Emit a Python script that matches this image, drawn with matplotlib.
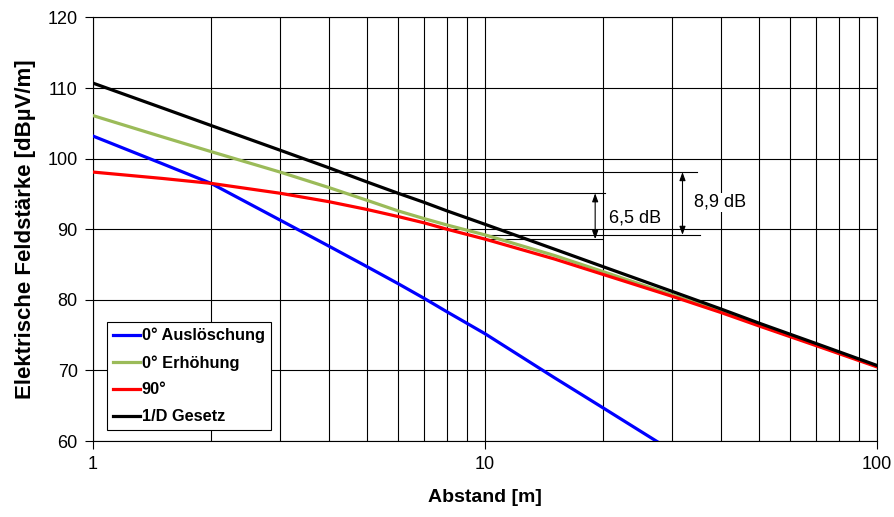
import matplotlib
matplotlib.use("Agg")
import matplotlib.pyplot as plt
import numpy as np

plt.rcParams['font.family'] = ['Liberation Sans', 'DejaVu Sans']

# Abstand [m]
distance = [1, 1.5, 2, 3, 4, 5, 6, 7, 8, 10, 15, 20, 30, 40, 50, 70, 100]
distance_blue = [1, 1.5, 2, 3, 4, 5, 6, 7, 8, 10, 15, 20, 30]

# Elektrische Feldstärke [dBµV/m]
e_ausloeschung = [103.2, 99.3, 96.5, 91.3, 87.6, 84.7, 82.3, 80.2, 78.3, 75.2, 69.0, 64.7, 58.6]
e_erhoehung = [106.1, 103.1, 101.0, 98.1, 95.9, 94.1, 92.6, 91.5, 90.6, 89.2, 86.3, 84.0, 80.7, 78.4, 76.5, 73.6, 70.6]
e_90grad = [98.1, 97.2, 96.5, 95.1, 93.9, 92.8, 91.8, 90.9, 90.0, 88.6, 85.8, 83.6, 80.5, 78.2, 76.3, 73.5, 70.5]
e_1d = [110.7, 107.2, 104.7, 101.2, 98.7, 96.7, 95.1, 93.8, 92.6, 90.7, 87.2, 84.7, 81.2, 78.7, 76.7, 73.8, 70.7]

labels = ['0° Auslöschung', '0° Erhöhung', '90°', '1/D Gesetz']
colors = ['#0000FF', '#9BBB59', '#FF0000', '#000000']

fig = plt.figure(figsize=(8.95, 5.17), dpi=100)
ax = fig.add_axes([0.1039, 0.147, 0.876, 0.8192])

ax.plot(distance_blue, e_ausloeschung, color=colors[0], lw=2.3, label=labels[0], zorder=3)
ax.plot(distance, e_erhoehung, color=colors[1], lw=2.3, label=labels[1], zorder=3)
ax.plot(distance, e_90grad, color=colors[2], lw=2.3, label=labels[2], zorder=3)
ax.plot(distance, e_1d, color=colors[3], lw=2.3, label=labels[3], zorder=3)

ax.set_xscale('log')
ax.set_xlim(1, 100)
ax.set_ylim(60, 120)
ax.set_yticks(np.arange(60, 121, 10))
ax.set_xticks([1, 10, 100])
ax.set_xticklabels(['1', '10', '100'])

ax.grid(True, which='major', color='black', lw=0.8, zorder=1)
ax.grid(True, which='minor', axis='x', color='black', lw=0.8, zorder=1)
ax.tick_params(axis='both', which='major', direction='out', length=6, width=0.8,
               labelsize=13, pad=5, color='black')
ax.tick_params(axis='x', which='minor', length=0, labelbottom=False)
for s in ax.spines.values():
    s.set_color('black')
    s.set_linewidth(0.8)

ax.set_xlabel('Abstand [m]', fontsize=14, fontweight='bold', labelpad=11)
ax.set_ylabel('Elektrische Feldstärke [dBµV/m]', fontsize=16, fontweight='bold', labelpad=8)

# Pegelabfall zwischen 3 m und 10 m
i3 = distance.index(3)
i10 = distance.index(10)

def level_marker(y_top, y_bot, x_top_end, x_bot_end, x_arrow, x_text, y_text, text):
    ax.plot([3, x_top_end], [y_top, y_top], color='black', lw=0.8, zorder=2)
    ax.plot([10, x_bot_end], [y_bot, y_bot], color='black', lw=0.8, zorder=2)
    ax.annotate('', xy=(x_arrow, y_bot), xytext=(x_arrow, y_top),
                arrowprops=dict(arrowstyle='<|-|>,head_length=0.5,head_width=0.18',
                                color='black', lw=0.8, shrinkA=0, shrinkB=0),
                zorder=4)
    ax.text(x_text, y_text, text, fontsize=13, ha='left', va='center', zorder=4,
            bbox=dict(facecolor='white', edgecolor='none', pad=0.5))

d_red = e_90grad[i3] - e_90grad[i10]
d_green = e_erhoehung[i3] - e_erhoehung[i10]
level_marker(e_90grad[i3], e_90grad[i10], 20.2, 19.9, 19.1, 20.7, 91.6,
             f'{d_red:.1f} dB'.replace('.', ','))
level_marker(e_erhoehung[i3], e_erhoehung[i10], 34.7, 35.4, 31.9, 34.1, 93.8,
             f'{d_green:.1f} dB'.replace('.', ','))

leg = ax.legend(loc='lower left', bbox_to_anchor=(0.018, 0.026), borderaxespad=0,
                prop={'weight': 'bold', 'size': 11.8}, frameon=True, fancybox=False,
                framealpha=1, edgecolor='black', handlelength=1.65, handletextpad=0.12,
                labelspacing=0.72, borderpad=0.35)
leg.get_frame().set_linewidth(0.8)
leg.set_zorder(5)

fig.savefig('out.png', dpi=100)
